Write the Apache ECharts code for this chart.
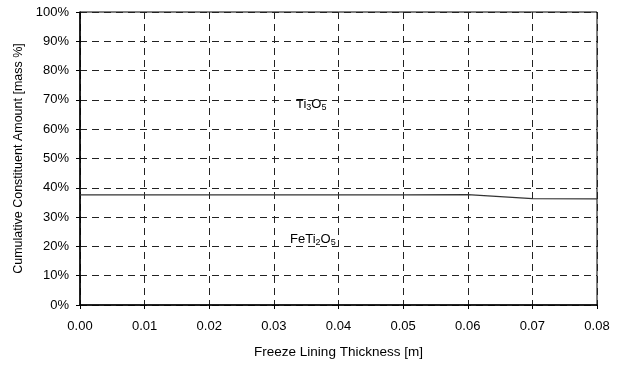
<!DOCTYPE html>
<html>
<head>
<meta charset="utf-8">
<script src="https://cdn.jsdelivr.net/npm/echarts@6/dist/echarts.min.js"></script>
<style>
  html, body { margin: 0; padding: 0; background: #fff; }
  #main { width: 621px; height: 366px; }
</style>
</head>
<body>
<div id="main"></div>
<script>
// thickness [m]
var thickness = [0.00, 0.01, 0.02, 0.03, 0.04, 0.05, 0.06, 0.07, 0.08];
// FeTi2O5 / Ti3O5 boundary [mass %]
var boundary = [37.6, 37.6, 37.6, 37.6, 37.6, 37.6, 37.7, 36.3, 36.2];

var font = 'Liberation Sans, Arial, sans-serif';
var myChart = echarts.init(document.getElementById('main'));

var option = {
  animation: false,
  backgroundColor: '#fff',
  textStyle: { fontFamily: font },
  grid: {
    left: 80, right: 24, top: 12, bottom: 61,
    show: true, borderColor: '#000', borderWidth: 1
  },
  xAxis: {
    type: 'value', min: 0, max: 0.08, interval: 0.01,
    name: 'Freeze Lining Thickness [m]',
    nameLocation: 'middle', nameGap: 40,
    nameTextStyle: { color: '#000', fontSize: 13.5, fontFamily: font },
    axisLine: { lineStyle: { color: '#000', width: 1.5 } },
    axisTick: { show: true, length: 4, lineStyle: { color: '#000' } },
    axisLabel: {
      color: '#000', fontSize: 13, fontFamily: font, margin: 15,
      formatter: function (v) { return v.toFixed(2); }
    },
    splitLine: { show: true, lineStyle: { color: '#222', type: [7, 5], width: 1 } }
  },
  yAxis: {
    type: 'value', min: 0, max: 100, interval: 10,
    name: 'Cumulative Constituent Amount [mass %]',
    nameLocation: 'middle', nameGap: 55,
    nameTextStyle: { color: '#000', fontSize: 12.5, fontFamily: font },
    axisLine: { show: true, lineStyle: { color: '#000', width: 1.5 } },
    axisTick: { show: true, length: 4, lineStyle: { color: '#000' } },
    axisLabel: { color: '#000', fontSize: 13, fontFamily: font, margin: 11, formatter: '{value}%' },
    splitLine: { show: true, lineStyle: { color: '#222', type: [7, 5], width: 1 } }
  },
  graphic: [
    {
      type: 'text', left: 296, top: 98,
      style: {
        text: '{n|Ti}{s|3}{n|O}{s|5}',
        rich: {
          n: { fontSize: 13, fontFamily: font, fill: '#000' },
          s: { fontSize: 9, fontFamily: font, fill: '#000', padding: [7, 0, 0, 0] }
        }
      }
    },
    {
      type: 'text', left: 290, top: 233,
      style: {
        text: '{n|FeTi}{s|2}{n|O}{s|5}',
        rich: {
          n: { fontSize: 13, fontFamily: font, fill: '#000' },
          s: { fontSize: 9, fontFamily: font, fill: '#000', padding: [7, 0, 0, 0] }
        }
      }
    }
  ],
  series: [{
    type: 'line',
    data: thickness.map(function (t, i) { return [t, boundary[i]]; }),
    showSymbol: false,
    lineStyle: { color: '#333', width: 1.2 }
  }]
};
myChart.setOption(option);
</script>
</body>
</html>
